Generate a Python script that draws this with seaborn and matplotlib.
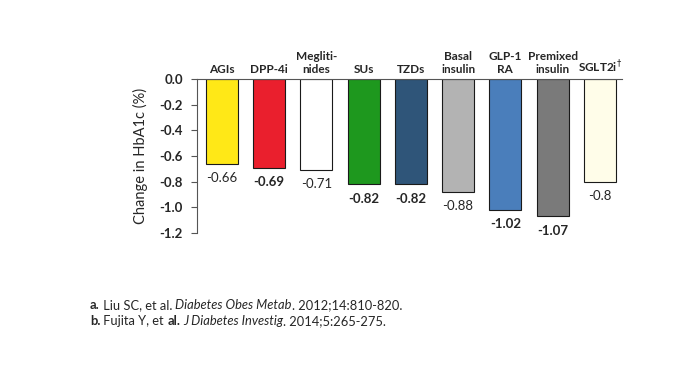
import matplotlib
matplotlib.use('Agg')
import matplotlib.pyplot as plt
import seaborn as sns
import pandas as pd

# Data
drug_classes = ['AGIs', 'DPP-4i', 'Megliti-\nnides', 'SUs', 'TZDs',
                'Basal\ninsulin', 'GLP-1\nRA', 'Premixed\ninsulin',
                'SGLT2i$^{\\dagger}$']
hba1c_change = [-0.66, -0.69, -0.71, -0.82, -0.82, -0.88, -1.02, -1.07, -0.8]
value_labels = ['-0.66', '-0.69', '-0.71', '-0.82', '-0.82', '-0.88',
                '-1.02', '-1.07', '-0.8']
bar_colors = ['#FFE817', '#EA1F2D', '#FFFFFF', '#1E981E', '#2F5579',
              '#B3B3B3', '#4A7EBB', '#7A7A7A', '#FFFDE9']
bold_values = [False, True, False, True, True, False, True, True, False]
yticks = [0.0, -0.2, -0.4, -0.6, -0.8, -1.0, -1.2]

df = pd.DataFrame({'drug': drug_classes, 'change': hba1c_change})

sns.set_style('white')
plt.rcParams['font.family'] = ['Lato', 'DejaVu Sans']
plt.rcParams['axes.unicode_minus'] = False

fig = plt.figure(figsize=(6.87, 3.89), dpi=100)
ax = fig.add_axes([0.2865, 0.401, 0.619, 0.396])

sns.barplot(data=df, x='drug', y='change', hue='drug', palette=bar_colors,
            legend=False, width=0.68, saturation=1, edgecolor='#1a1a1a',
            linewidth=0.8, ax=ax)

ax.set_ylim(-1.2, 0)
ax.set_xlim(-0.53, 8.47)
ax.set_yticks(yticks)
ax.set_yticklabels([f'{t:.1f}' for t in yticks], fontsize=9.5, fontweight='bold')
ax.tick_params(axis='y', left=True, length=4, width=0.8, pad=6, color='#555555')

ax.xaxis.tick_top()
ax.set_xticks(range(len(drug_classes)))
ax.set_xticklabels(drug_classes, fontsize=8.5, fontweight='bold')
ax.tick_params(axis='x', top=False, length=0, pad=3)
ax.set_xlabel('')
ax.set_ylabel('Change in HbA1c (%)', fontsize=10.5, labelpad=8)

for s in ['right', 'bottom']:
    ax.spines[s].set_visible(False)
for s in ['left', 'top']:
    ax.spines[s].set_color('#555555')
    ax.spines[s].set_linewidth(0.8)

for i, (v, lab, b) in enumerate(zip(hba1c_change, value_labels, bold_values)):
    ax.annotate(lab, (i, v), xytext=(0, -6), textcoords='offset points',
                ha='center', va='top', fontsize=9.5,
                fontweight='bold' if b else 'normal', clip_on=False)

# references
refs = [
    [('a.', 'bold', 'normal'), (' Liu SC, et al. ', 'normal', 'normal'),
     ('Diabetes Obes Metab', 'normal', 'italic'), ('. 2012;14:810-820.', 'normal', 'normal')],
    [('b.', 'bold', 'normal'), (' Fujita Y, et ', 'normal', 'normal'),
     ('al.', 'bold', 'normal'), (' ', 'normal', 'normal'),
     ('J Diabetes Investig', 'normal', 'italic'), ('. 2014;5:265-275.', 'normal', 'normal')],
]
for row, ypos in zip(refs, [0.206, 0.165]):
    prev = None
    for txt, w, st in row:
        if prev is None:
            prev = fig.text(0.131, ypos, txt, fontsize=9.3, fontweight=w,
                            fontstyle=st, va='baseline')
        else:
            prev = ax.annotate(txt, xy=(1, 0), xycoords=prev, fontsize=9.3,
                               fontweight=w, fontstyle=st, va='bottom',
                               annotation_clip=False)

fig.savefig('out.png', dpi=100)
